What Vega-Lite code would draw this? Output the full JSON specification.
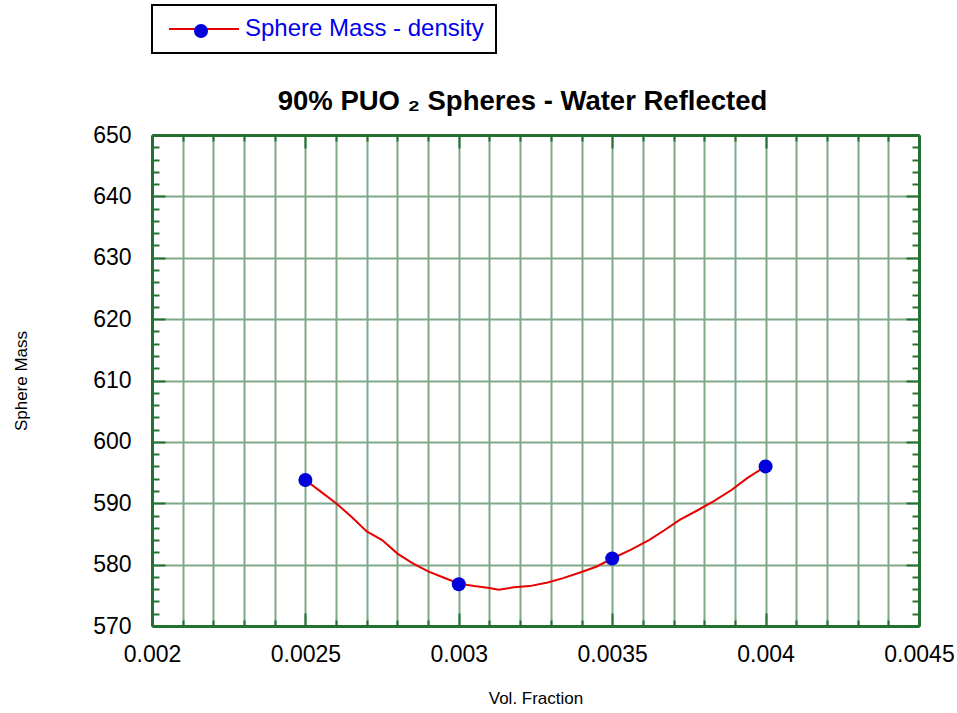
{
  "$schema": "https://vega.github.io/schema/vega-lite/v6.json",
  "width": 767,
  "height": 491,
  "autosize": {"type": "none"},
  "padding": {"left": 152, "top": 135, "right": 38, "bottom": 87},
  "background": "white",
  "config": {"view": {"stroke": null}, "font": "Liberation Sans"},
  "title": {
    "text": "90% PUO  ₂  Spheres - Water Reflected",
    "fontSize": 27.5,
    "fontWeight": "bold",
    "font": "Liberation Sans",
    "color": "black",
    "anchor": "middle",
    "dx": -13,
    "offset": -111
  },
  "datasets": {
    "curve": [
      {"x": 0.0025, "y": 593.8, "series": "Sphere Mass - density"},
      {"x": 0.00255, "y": 591.9, "series": "Sphere Mass - density"},
      {"x": 0.0026, "y": 590.0, "series": "Sphere Mass - density"},
      {"x": 0.00265, "y": 587.8, "series": "Sphere Mass - density"},
      {"x": 0.0027, "y": 585.4, "series": "Sphere Mass - density"},
      {"x": 0.00275, "y": 584.0, "series": "Sphere Mass - density"},
      {"x": 0.0028, "y": 581.8, "series": "Sphere Mass - density"},
      {"x": 0.00285, "y": 580.2, "series": "Sphere Mass - density"},
      {"x": 0.0029, "y": 578.9, "series": "Sphere Mass - density"},
      {"x": 0.00295, "y": 577.9, "series": "Sphere Mass - density"},
      {"x": 0.003, "y": 576.9, "series": "Sphere Mass - density"},
      {"x": 0.00305, "y": 576.5, "series": "Sphere Mass - density"},
      {"x": 0.0031, "y": 576.2, "series": "Sphere Mass - density"},
      {"x": 0.00313, "y": 575.9, "series": "Sphere Mass - density"},
      {"x": 0.00318, "y": 576.3, "series": "Sphere Mass - density"},
      {"x": 0.00323, "y": 576.5, "series": "Sphere Mass - density"},
      {"x": 0.00329, "y": 577.1, "series": "Sphere Mass - density"},
      {"x": 0.00334, "y": 577.8, "series": "Sphere Mass - density"},
      {"x": 0.0034, "y": 578.8, "series": "Sphere Mass - density"},
      {"x": 0.00345, "y": 579.7, "series": "Sphere Mass - density"},
      {"x": 0.0035, "y": 581.0, "series": "Sphere Mass - density"},
      {"x": 0.00356, "y": 582.4, "series": "Sphere Mass - density"},
      {"x": 0.00362, "y": 584.0, "series": "Sphere Mass - density"},
      {"x": 0.00367, "y": 585.6, "series": "Sphere Mass - density"},
      {"x": 0.00372, "y": 587.3, "series": "Sphere Mass - density"},
      {"x": 0.00378, "y": 588.9, "series": "Sphere Mass - density"},
      {"x": 0.00383, "y": 590.3, "series": "Sphere Mass - density"},
      {"x": 0.00389, "y": 592.2, "series": "Sphere Mass - density"},
      {"x": 0.00394, "y": 594.1, "series": "Sphere Mass - density"},
      {"x": 0.004, "y": 596.0, "series": "Sphere Mass - density"}
    ],
    "pts": [
      {"x": 0.0025, "y": 593.8, "series": "Sphere Mass - density"},
      {"x": 0.003, "y": 576.8, "series": "Sphere Mass - density"},
      {"x": 0.0035, "y": 581.0, "series": "Sphere Mass - density"},
      {"x": 0.004, "y": 596.0, "series": "Sphere Mass - density"}
    ]
  },
  "resolve": {
    "axis": {"x": "independent", "y": "independent"},
    "legend": {"color": "independent", "fill": "independent"}
  },
  "layer": [
    {
      "data": {"name": "curve"},
      "mark": {"type": "line", "strokeWidth": 2},
      "encoding": {
        "x": {
          "field": "x", "type": "quantitative",
          "scale": {"domain": [0.002, 0.0045], "nice": false, "zero": false},
          "axis": {
            "orient": "bottom",
            "values": [0.002, 0.0021, 0.0022, 0.0023, 0.0024, 0.0025, 0.0026, 0.0027, 0.0028, 0.0029, 0.003, 0.0031, 0.0032, 0.0033, 0.0034, 0.0035, 0.0036, 0.0037, 0.0038, 0.0039, 0.004, 0.0041, 0.0042, 0.0043, 0.0044, 0.0045],
            "grid": true, "gridColor": "#7ea888", "gridWidth": 2,
            "domainColor": "#237030", "domainWidth": 3,
            "tickColor": "#237030", "tickWidth": 2,
            "tickSize": {"condition": {"test": "abs(datum.value*2000 - round(datum.value*2000)) < 0.001", "value": -13}, "value": -6},
            "labelExpr": "abs(datum.value*2000 - round(datum.value*2000)) < 0.001 ? format(datum.value, '~g') : ''",
            "labelFontSize": 23, "labelColor": "black", "labelFont": "Liberation Sans",
            "labelPadding": 30, "labelOverlap": false, "labelFlush": false, "labelBound": false,
            "title": "Vol. Fraction", "titleFontSize": 17, "titleFontWeight": "normal", "titleColor": "black",
            "titleFont": "Liberation Sans", "titlePadding": 17
          }
        },
        "y": {
          "field": "y", "type": "quantitative",
          "scale": {"domain": [570, 650], "nice": false, "zero": false},
          "axis": {
            "orient": "left",
            "values": [570, 572, 574, 576, 578, 580, 582, 584, 586, 588, 590, 592, 594, 596, 598, 600, 602, 604, 606, 608, 610, 612, 614, 616, 618, 620, 622, 624, 626, 628, 630, 632, 634, 636, 638, 640, 642, 644, 646, 648, 650],
            "grid": true, "gridColor": "#7ea888", "gridWidth": 2,
            "gridOpacity": {"condition": {"test": "datum.value % 10 == 0", "value": 1}, "value": 0},
            "domainColor": "#237030", "domainWidth": 3,
            "tickColor": "#237030", "tickWidth": 2,
            "tickSize": {"condition": {"test": "datum.value % 10 == 0", "value": -13}, "value": -7},
            "labelExpr": "datum.value % 10 == 0 ? datum.label : ''",
            "labelFontSize": 23, "labelColor": "black", "labelFont": "Liberation Sans",
            "labelPadding": 34, "labelOverlap": false, "labelFlush": false, "labelBound": false,
            "title": "Sphere Mass", "titleFontSize": 17, "titleFontWeight": "normal", "titleColor": "black",
            "titleFont": "Liberation Sans", "titlePadding": 62
          }
        },
        "color": {
          "field": "series", "type": "nominal",
          "scale": {"range": ["#e60000"]},
          "legend": {
            "orient": "none", "legendX": 0, "legendY": -130,
            "title": null,
            "symbolType": "M-1,0H9", "symbolSize": 196,
            "symbolStrokeColor": "#e60000", "symbolStrokeWidth": 2,
            "labelFontSize": 24, "labelColor": "#0000ee", "labelFont": "Liberation Sans",
            "labelOffset": 57, "labelLimit": 0,
            "padding": 12, "fillColor": "white", "strokeColor": "black",
            "encode": {"legend": {"update": {"strokeWidth": {"value": 2}}}}
          }
        }
      }
    },
    {
      "data": {"name": "pts"},
      "mark": {"type": "point", "filled": true, "size": 196, "opacity": 1, "strokeWidth": 0},
      "encoding": {
        "x": {
          "field": "x", "type": "quantitative",
          "scale": {"domain": [0.002, 0.0045], "nice": false, "zero": false},
          "axis": {
            "orient": "top",
            "values": [0.002, 0.0021, 0.0022, 0.0023, 0.0024, 0.0025, 0.0026, 0.0027, 0.0028, 0.0029, 0.003, 0.0031, 0.0032, 0.0033, 0.0034, 0.0035, 0.0036, 0.0037, 0.0038, 0.0039, 0.004, 0.0041, 0.0042, 0.0043, 0.0044, 0.0045],
            "grid": false, "labels": false, "title": null,
            "domainColor": "#237030", "domainWidth": 3,
            "tickColor": "#237030", "tickWidth": 2,
            "tickSize": {"condition": {"test": "abs(datum.value*2000 - round(datum.value*2000)) < 0.001", "value": -13}, "value": -6}
          }
        },
        "y": {
          "field": "y", "type": "quantitative",
          "scale": {"domain": [570, 650], "nice": false, "zero": false},
          "axis": {
            "orient": "right",
            "values": [570, 572, 574, 576, 578, 580, 582, 584, 586, 588, 590, 592, 594, 596, 598, 600, 602, 604, 606, 608, 610, 612, 614, 616, 618, 620, 622, 624, 626, 628, 630, 632, 634, 636, 638, 640, 642, 644, 646, 648, 650],
            "grid": false, "labels": false, "title": null,
            "domainColor": "#237030", "domainWidth": 3,
            "tickColor": "#237030", "tickWidth": 2,
            "tickSize": {"condition": {"test": "datum.value % 10 == 0", "value": -13}, "value": -7}
          }
        },
        "fill": {
          "field": "series", "type": "nominal",
          "scale": {"range": ["#0000dd"]},
          "legend": {
            "orient": "none", "legendX": 42, "legendY": -111,
            "title": null, "symbolType": "circle", "symbolSize": 196,
            "symbolStrokeWidth": 0, "symbolFillColor": "#0000dd",
            "labelExpr": "''", "labelFontSize": 1, "padding": 0
          }
        }
      }
    }
  ]
}
